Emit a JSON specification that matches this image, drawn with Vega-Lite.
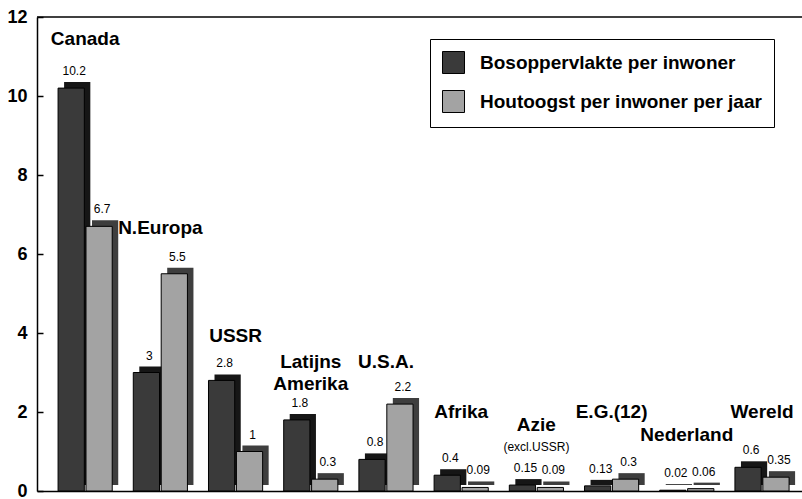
{
  "$schema": "https://vega.github.io/schema/vega-lite/v6.json",
  "width": 765,
  "height": 474,
  "autosize": "none",
  "padding": {"left": 37, "top": 17, "right": 0, "bottom": 8},
  "background": "white",
  "config": {
    "view": {"stroke": null},
    "font": "Liberation Sans",
    "text": {"font": "Liberation Sans", "color": "black"}
  },
  "datasets": {
    "bars": [
      {"region": "Canada", "series": "Bosoppervlakte per inwoner", "value": 10.2, "txt": "10.2"},
      {"region": "Canada", "series": "Houtoogst per inwoner per jaar", "value": 6.7, "txt": "6.7"},
      {"region": "N.Europa", "series": "Bosoppervlakte per inwoner", "value": 3, "txt": "3"},
      {"region": "N.Europa", "series": "Houtoogst per inwoner per jaar", "value": 5.5, "txt": "5.5"},
      {"region": "USSR", "series": "Bosoppervlakte per inwoner", "value": 2.8, "txt": "2.8"},
      {"region": "USSR", "series": "Houtoogst per inwoner per jaar", "value": 1, "txt": "1"},
      {"region": "Latijns Amerika", "series": "Bosoppervlakte per inwoner", "value": 1.8, "txt": "1.8"},
      {"region": "Latijns Amerika", "series": "Houtoogst per inwoner per jaar", "value": 0.3, "txt": "0.3"},
      {"region": "U.S.A.", "series": "Bosoppervlakte per inwoner", "value": 0.8, "txt": "0.8"},
      {"region": "U.S.A.", "series": "Houtoogst per inwoner per jaar", "value": 2.2, "txt": "2.2"},
      {"region": "Afrika", "series": "Bosoppervlakte per inwoner", "value": 0.4, "txt": "0.4"},
      {"region": "Afrika", "series": "Houtoogst per inwoner per jaar", "value": 0.09, "txt": "0.09"},
      {"region": "Azie", "series": "Bosoppervlakte per inwoner", "value": 0.15, "txt": "0.15"},
      {"region": "Azie", "series": "Houtoogst per inwoner per jaar", "value": 0.09, "txt": "0.09"},
      {"region": "E.G.(12)", "series": "Bosoppervlakte per inwoner", "value": 0.13, "txt": "0.13"},
      {"region": "E.G.(12)", "series": "Houtoogst per inwoner per jaar", "value": 0.3, "txt": "0.3"},
      {"region": "Nederland", "series": "Bosoppervlakte per inwoner", "value": 0.02, "txt": "0.02"},
      {"region": "Nederland", "series": "Houtoogst per inwoner per jaar", "value": 0.06, "txt": "0.06"},
      {"region": "Wereld", "series": "Bosoppervlakte per inwoner", "value": 0.6, "txt": "0.6"},
      {"region": "Wereld", "series": "Houtoogst per inwoner per jaar", "value": 0.35, "txt": "0.35"}
    ],
    "labels": [
      {"region": "Canada", "label": "Canada", "ypos": 11.45},
      {"region": "N.Europa", "label": "N.Europa", "ypos": 6.67},
      {"region": "USSR", "label": "USSR", "ypos": 3.93},
      {"region": "Latijns Amerika", "label": ["Latijns", "Amerika"], "ypos": 3.27},
      {"region": "U.S.A.", "label": "U.S.A.", "ypos": 3.27},
      {"region": "Afrika", "label": "Afrika", "ypos": 2.0},
      {"region": "Azie", "label": "Azie", "ypos": 1.68},
      {"region": "E.G.(12)", "label": "E.G.(12)", "ypos": 2.0},
      {"region": "Nederland", "label": "Nederland", "ypos": 1.42},
      {"region": "Wereld", "label": "Wereld", "ypos": 2.0}
    ],
    "sublabels": [
      {"region": "Azie", "label": "(excl.USSR)", "ypos": 1.12}
    ]
  },
  "resolve": {"scale": {"x": "independent", "xOffset": "independent"}},
  "layer": [
    {
      "data": {"name": "bars"},
      "mark": {"type": "bar", "yOffset": -6, "y2Offset": -2},
      "encoding": {
        "x": {"field": "region", "type": "nominal", "sort": null,
              "scale": {"type": "band", "paddingInner": 0.28, "paddingOuter": 0.226, "align": 0.797},
              "axis": null},
        "xOffset": {"field": "series", "type": "nominal", "sort": null, "scale": {"paddingInner": 0.06}},
        "y": {"field": "value", "type": "quantitative", "scale": {"domain": [0, 12], "nice": false},
              "axis": {"values": [0,1,2,3,4,5,6,7,8,9,10,11,12], "labelExpr": "datum.value % 2 === 0 ? datum.label : ''",
                       "grid": false, "title": null, "domainColor": "black", "domainWidth": 1.5,
                       "tickColor": "black", "tickSize": -6, "tickWidth": 1.5, "labelPadding": 16,
                       "labelFont": "Liberation Sans", "labelFontSize": 18, "labelFontWeight": "bold", "labelColor": "black"}},
        "color": {"condition": {"test": "datum.series === 'Bosoppervlakte per inwoner'", "value": "#161616"}, "value": "#3e3e3e"}
      }
    },
    {
      "layer": [
        {
          "data": {"name": "bars"},
          "mark": {"type": "bar", "stroke": "black", "strokeWidth": 1},
          "encoding": {
            "x": {"field": "region", "type": "nominal", "sort": null,
                  "scale": {"type": "band", "paddingInner": 0.28, "paddingOuter": 0.226, "align": 0.62},
                  "axis": {"domain": true, "domainColor": "black", "domainWidth": 1.5, "ticks": false, "labels": false, "title": null}},
            "xOffset": {"field": "series", "type": "nominal", "sort": null, "scale": {"paddingInner": 0.06}},
            "y": {"field": "value", "type": "quantitative"},
            "color": {"field": "series", "type": "nominal", "sort": null,
                      "scale": {"domain": ["Bosoppervlakte per inwoner", "Houtoogst per inwoner per jaar"], "range": ["#3a3a3a", "#a3a3a3"]},
                      "legend": {"orient": "none", "legendX": 393, "legendY": 22, "title": null,
                                 "symbolType": "square", "symbolSize": 484, "symbolStrokeColor": "black", "symbolStrokeWidth": 1,
                                 "labelFont": "Liberation Sans", "labelFontSize": 19, "labelFontWeight": "bold", "labelColor": "black",
                                 "labelOffset": 15, "rowPadding": 12, "padding": 12,
                                 "fillColor": "white", "strokeColor": "black", "labelLimit": 400}}
          }
        },
        {
          "data": {"name": "bars"},
          "mark": {"type": "text", "fontSize": 12, "dy": -17, "dx": 3, "baseline": "middle"},
          "encoding": {
            "x": {"field": "region", "type": "nominal", "sort": null},
            "xOffset": {"field": "series", "type": "nominal", "sort": null},
            "y": {"field": "value", "type": "quantitative"},
            "text": {"field": "txt"}
          }
        },
        {
          "data": {"name": "labels"},
          "mark": {"type": "text", "fontSize": 19, "fontWeight": "bold", "baseline": "middle", "lineHeight": 22},
          "encoding": {
            "x": {"field": "region", "type": "nominal", "sort": null},
            "y": {"field": "ypos", "type": "quantitative"},
            "text": {"field": "label"}
          }
        },
        {
          "data": {"name": "sublabels"},
          "mark": {"type": "text", "fontSize": 12, "baseline": "middle"},
          "encoding": {
            "x": {"field": "region", "type": "nominal", "sort": null},
            "y": {"field": "ypos", "type": "quantitative"},
            "text": {"field": "label"}
          }
        },
        {
          "data": {"values": [{}]},
          "mark": {"type": "rule", "color": "black", "strokeWidth": 1.5},
          "encoding": {"y": {"datum": 12}}
        }
      ]
    }
  ]
}
